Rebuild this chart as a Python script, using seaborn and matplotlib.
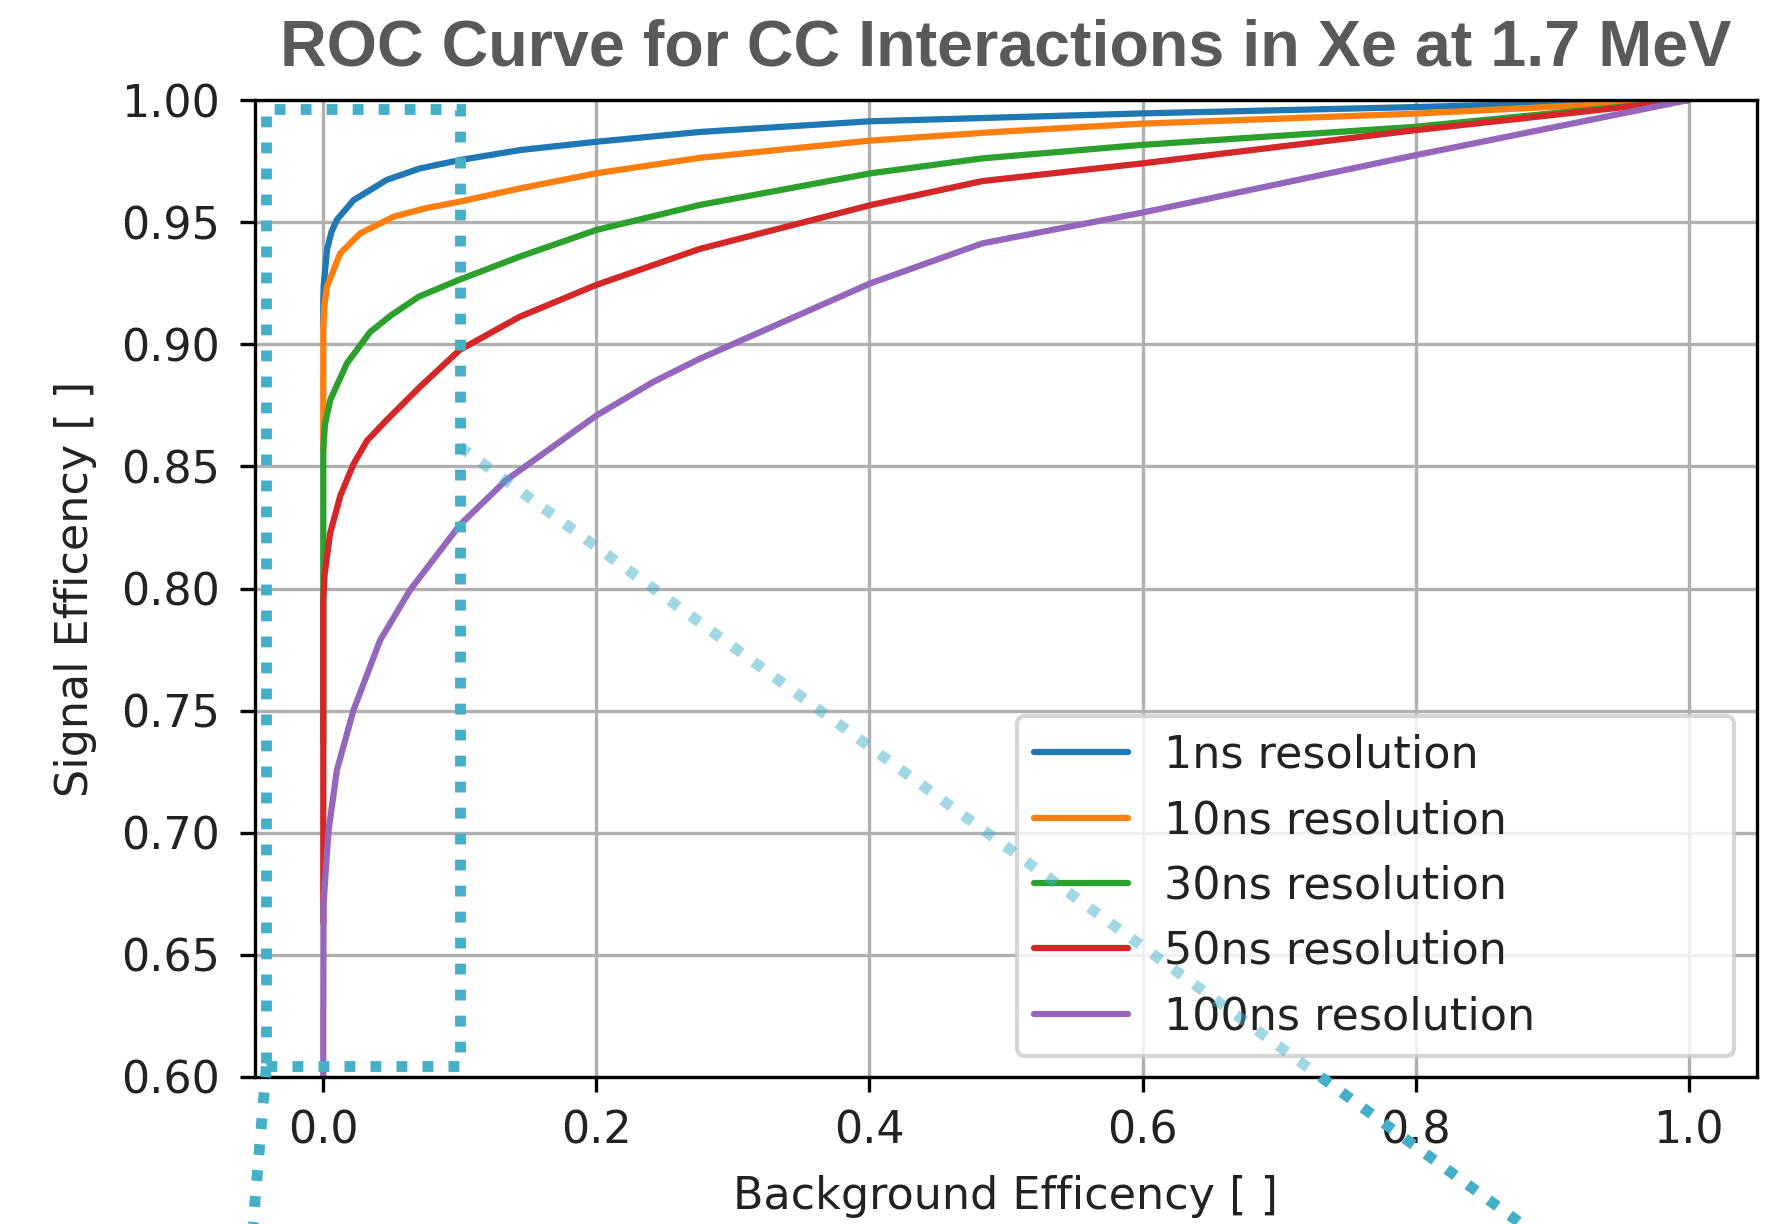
import pandas as pd
import matplotlib.pyplot as plt
import seaborn as sns
from matplotlib.patches import Rectangle

# --- ROC curves (background eff, signal eff) ---

labels = ["1ns resolution", "10ns resolution", "30ns resolution",
          "50ns resolution", "100ns resolution"]

bkg_1ns = [0, 0, 0.0003, 0.0027, 0.006, 0.010, 0.0222, 0.0465, 0.0709, 0.100, 0.144, 0.200, 0.2755, 0.401, 0.599, 0.799, 1.0]
sig_1ns = [0.907, 0.918, 0.924, 0.9386, 0.946, 0.951, 0.959, 0.9673, 0.972, 0.9754, 0.9795, 0.9829, 0.9869, 0.9913, 0.9945, 0.9971, 1.0]

bkg_10ns = [0, 0, 0.0008, 0.0027, 0.0124, 0.027, 0.0514, 0.075, 0.100, 0.144, 0.200, 0.2755, 0.401, 0.4947, 0.599, 0.799, 1.0]
sig_10ns = [0.857, 0.907, 0.916, 0.9236, 0.9372, 0.9454, 0.9522, 0.9557, 0.9584, 0.9638, 0.970, 0.9763, 0.9834, 0.987, 0.9903, 0.9944, 1.0]

bkg_30ns = [0, 0, 0.0012, 0.0051, 0.0173, 0.0343, 0.050, 0.070, 0.100, 0.144, 0.200, 0.2755, 0.401, 0.4826, 0.599, 0.799, 1.0]
sig_30ns = [0.737, 0.857, 0.867, 0.8772, 0.8922, 0.905, 0.912, 0.9195, 0.9265, 0.9359, 0.9468, 0.957, 0.970, 0.9761, 0.9816, 0.989, 1.0]

bkg_50ns = [0, 0, 0.0008, 0.005, 0.0125, 0.0222, 0.032, 0.0465, 0.0709, 0.100, 0.144, 0.200, 0.2755, 0.401, 0.4826, 0.599, 0.799, 1.0]
sig_50ns = [0.663, 0.795, 0.805, 0.8226, 0.838, 0.851, 0.8605, 0.869, 0.8826, 0.8977, 0.9113, 0.9243, 0.939, 0.957, 0.9668, 0.974, 0.9876, 1.0]

bkg_100ns = [0, 0, 0.0002, 0.0039, 0.010, 0.0222, 0.0417, 0.0636, 0.100, 0.134, 0.200, 0.2414, 0.2755, 0.401, 0.4826, 0.599, 0.799, 1.0]
sig_100ns = [0.60, 0.623, 0.6711, 0.7011, 0.7257, 0.7503, 0.7789, 0.7994, 0.826, 0.8444, 0.8708, 0.8845, 0.894, 0.925, 0.9413, 0.9538, 0.9773, 1.0]

xs = [bkg_1ns, bkg_10ns, bkg_30ns, bkg_50ns, bkg_100ns]
ys = [sig_1ns, sig_10ns, sig_30ns, sig_50ns, sig_100ns]

rows = []
for lab, x, y in zip(labels, xs, ys):
    for a, b in zip(x, y):
        rows.append({"res": lab, "bkg": a, "sig": b})
df = pd.DataFrame(rows)

sns.set_style("ticks")
plt.rcParams["font.family"] = "DejaVu Sans"
plt.rcParams["text.color"] = "#222222"
plt.rcParams["axes.labelcolor"] = "#222222"
plt.rcParams["xtick.color"] = "black"
plt.rcParams["ytick.color"] = "black"
plt.rcParams["xtick.labelcolor"] = "#222222"
plt.rcParams["ytick.labelcolor"] = "#222222"

fs = 10.7

fig = plt.figure(figsize=(1777 / 300, 1224 / 300), dpi=300)
ax = fig.add_axes([255 / 1777, 1 - 1077 / 1224, 1502 / 1777, 977 / 1224])

palette = sns.color_palette("tab10", 5)
sns.lineplot(data=df, x="bkg", y="sig", hue="res", palette=palette,
             estimator=None, sort=False, linewidth=1.5, legend=False, ax=ax)

ax.set_xlim(-0.05, 1.05)
ax.set_ylim(0.6, 1.0)
ax.set_xticks([0.0, 0.2, 0.4, 0.6, 0.8, 1.0])
ax.set_yticks([0.60, 0.65, 0.70, 0.75, 0.80, 0.85, 0.90, 0.95, 1.00])
ax.set_yticklabels(["0.60", "0.65", "0.70", "0.75", "0.80", "0.85", "0.90", "0.95", "1.00"])
ax.grid(True, color="#b0b0b0", linewidth=0.8)
for s in ax.spines.values():
    s.set_color("black")
    s.set_linewidth(0.8)
ax.tick_params(labelsize=fs, length=3.5, width=0.8)
ax.tick_params(axis="y", pad=4.8)
ax.tick_params(axis="x", pad=4.3)

ax.set_xlabel("Background Efficency [ ]", fontsize=fs, labelpad=5.5)
ax.set_ylabel("Signal Efficency [ ]", fontsize=fs, labelpad=6)
ax.set_title("ROC Curve for CC Interactions in Xe at 1.7 MeV",
             fontfamily="Liberation Sans", fontweight="bold", fontsize=15.5,
             color="#595959", pad=8.2)

ax.legend(ax.get_lines()[:5], labels, loc="lower left", mode="expand",
          bbox_to_anchor=(0.507, 0.0215, 0.478, 0.36), borderaxespad=0,
          fontsize=fs, frameon=True, framealpha=0.8, edgecolor="#cccccc",
          fancybox=True, handlelength=2.1)

# --- dotted zoom box overlay ---
box_col = "#43b0c8"
dots = (0, (1, 1.4))
ax.add_patch(Rectangle((-0.0417, 0.6043), 0.1418, 0.3921, fill=False,
                       edgecolor=box_col, linewidth=2.6, linestyle=dots,
                       clip_on=False, zorder=6))
# leader lines
ax.plot([0.100, 0.7306], [0.858, 0.6], color=box_col, alpha=0.5, lw=2.6,
        ls=dots, dash_capstyle="butt", clip_on=False, zorder=7)
ax.plot([0.7306, 0.8776], [0.6, 0.5398], color=box_col, lw=2.6,
        ls=dots, dash_capstyle="butt", clip_on=False, zorder=7)
ax.plot([-0.0417, -0.0514], [0.6043, 0.5398], color=box_col, lw=2.6,
        ls=dots, dash_capstyle="butt", clip_on=False, zorder=7)

fig.savefig("out.png", dpi=300)
